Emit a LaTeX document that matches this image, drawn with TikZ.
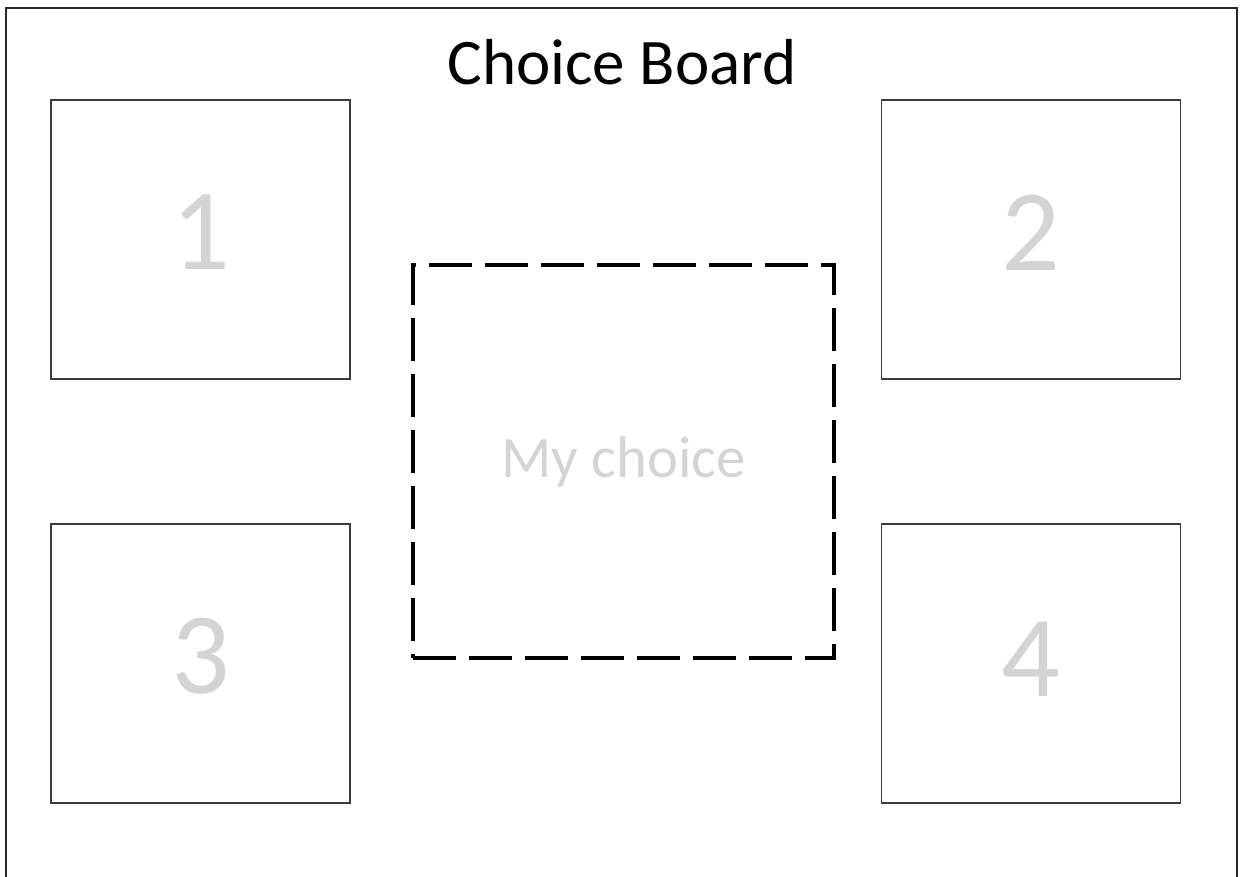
\documentclass[tikz,border=0pt]{standalone}
\usepackage{fontspec}
\setmainfont{Carlito}
\usepackage{tikz}
\usetikzlibrary{positioning}
\definecolor{framegray}{RGB}{40,40,40}
\definecolor{boxgray}{RGB}{60,60,60}
\definecolor{numgray}{RGB}{212,212,212}

\begin{document}
\begin{tikzpicture}[
  x=0.5pt, y=-0.5pt,
  slot/.style={draw=boxgray, line width=0.75pt, rectangle, inner sep=0pt,
               minimum width=149.5pt, minimum height=139.5pt},
  pick/.style={draw=black, line width=2pt, rectangle, inner sep=0pt,
               dash pattern=on 21.5pt off 6.5pt,
               minimum width=210.5pt, minimum height=196.5pt},
  num/.style={font=\fontsize{58}{60}\selectfont, text=numgray, inner sep=0pt},
  ttl/.style={font=\fontsize{32.5}{34}\selectfont, inner sep=0pt}]
\useasboundingbox (0,0) rectangle (1244,877);
\draw[framegray, line width=1pt] (6,877) -- (6,8) -- (1237,8) -- (1237,877);
\node[ttl] (title) at (622,62) {Choice Board};
\node[slot] (one) at (200.5,239.5) {};
\node[slot] (two) at (1031,239.5) {};
\node[slot] (three) at (200.5,663.5) {};
\node[slot] (four) at (1031,663.5) {};
\node[pick, font=\fontsize{29.4}{31}\selectfont, text=numgray] (mine) at (623.5,461.5) {My choice};
\node[num] at ([yshift=3.5pt]one.center) {1};
\node[num] at ([yshift=3.5pt]two.center) {2};
\node[num] at ([yshift=3.5pt]three.center) {3};
\node[num] at ([yshift=2pt]four.center) {4};
\end{tikzpicture}
\end{document}
